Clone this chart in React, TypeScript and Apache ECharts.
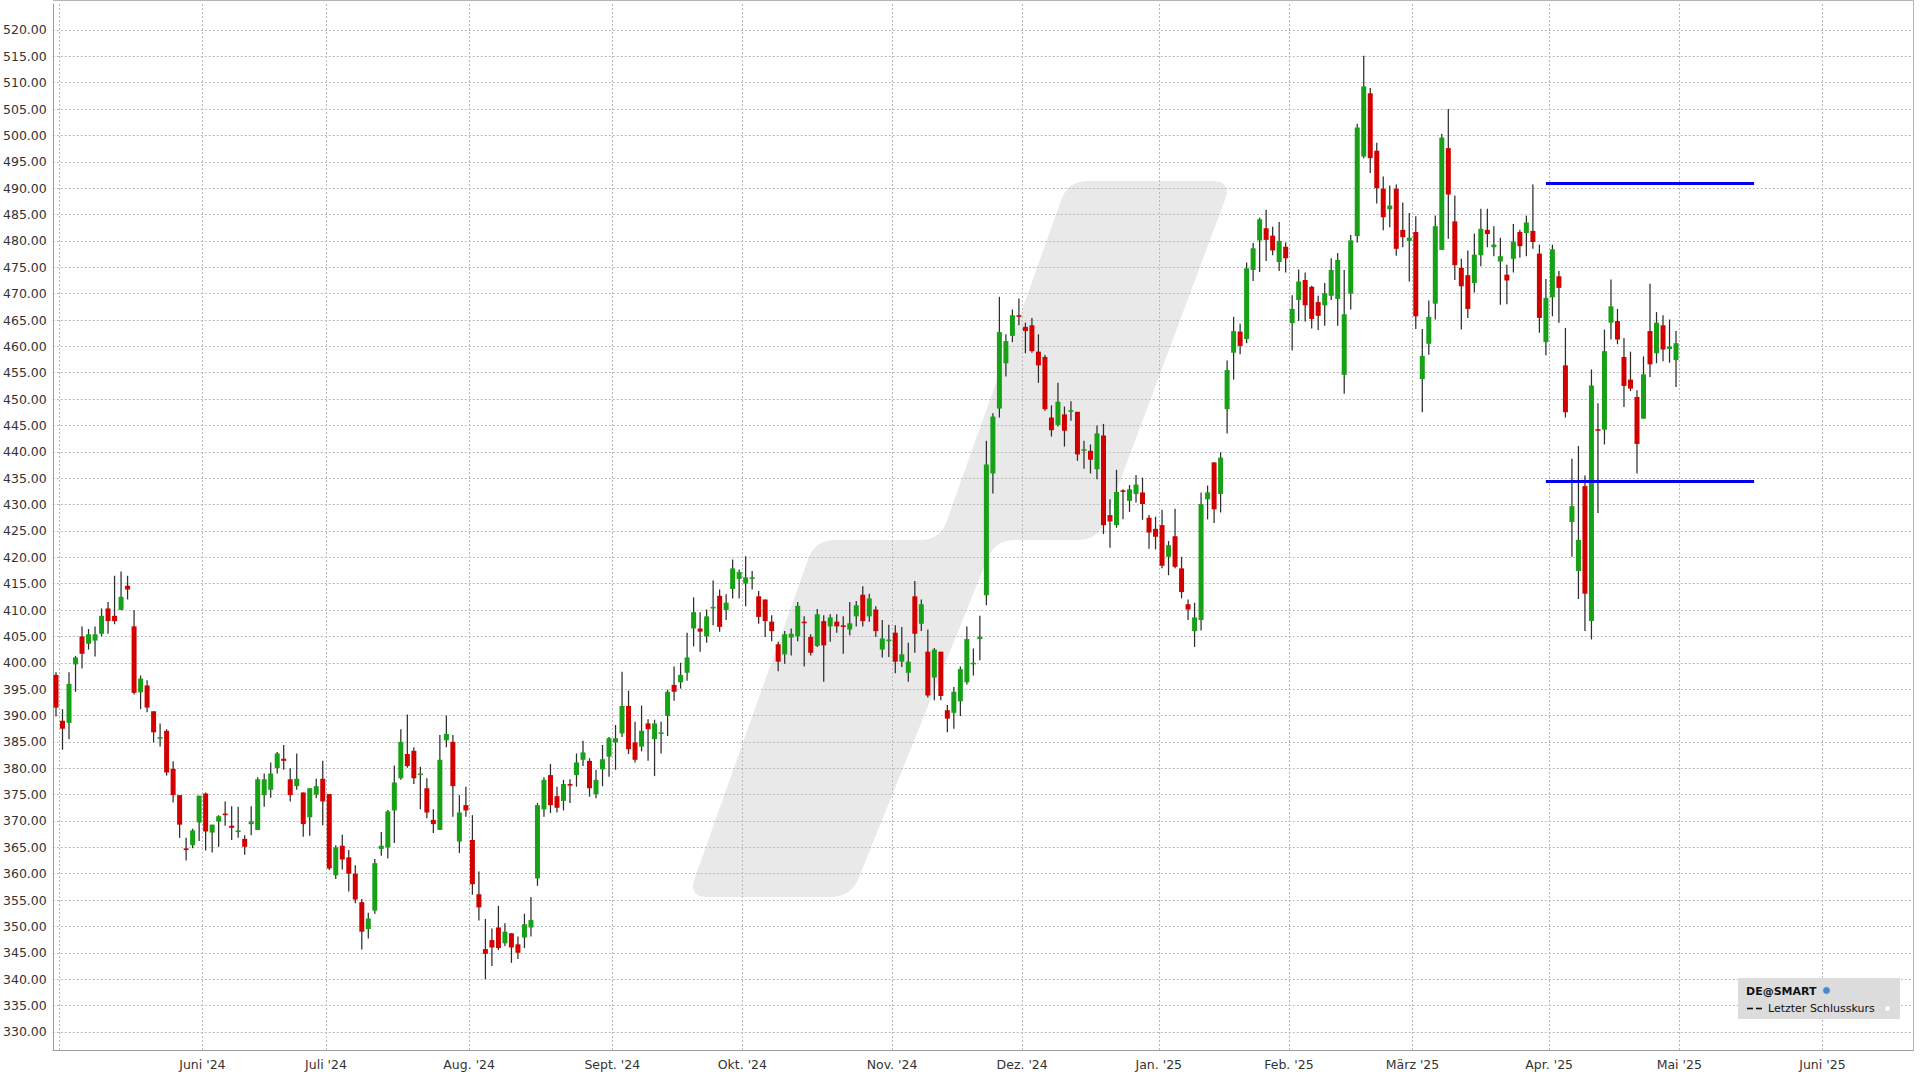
import React, { useEffect, useRef } from "react";
import * as echarts from "echarts";

// ---------- data ----------
const monthLabels = ["Apr '24", "Mai '24", "Juni '24", "Juli '24", "Aug. '24", "Sept. '24", "Okt. '24", "Nov. '24", "Dez. '24", "Jan. '25", "Feb. '25", "März '25", "Apr. '25", "Mai '25", "Juni '25"];
const tradingDaysPerMonth = [1, 22, 19, 22, 22, 20, 23, 20, 21, 20, 19, 21, 20, 22, 14];
const firstLabelledMonth = 2; // "Juni '24"
const firstGridMonth = 1; // "Mai '24"

const opens = [
  397.7, 389.0, 388.6, 399.7, 405.0, 403.6, 404.2, 405.5, 410.3, 408.9,
  410.0, 414.6, 406.9, 394.4, 395.7, 390.8, 385.6, 387.1, 379.9, 374.9,
  364.8, 365.4, 369.7, 375.2, 367.8, 369.9, 371.4, 369.1, 367.9, 366.6,
  369.4, 368.3, 374.9, 375.9, 380.0, 381.8, 377.9, 376.6, 375.4, 370.7,
  375.0, 378.0, 375.1, 359.7, 365.3, 363.1, 360.0, 354.6, 349.5, 353.0,
  364.7, 365.0, 372.0, 378.1, 382.7, 383.3, 378.7, 376.2, 370.2, 368.3,
  385.3, 385.0, 366.1, 373.0, 366.4, 356.1, 345.7, 347.4, 349.8, 346.8,
  348.7, 346.6, 347.9, 349.8, 359.1, 372.2, 378.7, 374.7, 373.8, 377.0,
  378.7, 381.6, 381.4, 375.1, 379.8, 382.2, 384.9, 386.6, 391.8, 384.9,
  384.1, 388.5, 385.5, 386.6, 389.9, 395.8, 396.3, 398.1, 406.5, 406.5,
  405.0, 410.4, 412.7, 410.0, 414.0, 415.9, 415.0, 415.9, 412.6, 412.0,
  407.8, 403.5, 401.6, 404.8, 405.0, 407.8, 404.9, 403.2, 407.9, 406.9,
  407.8, 407.1, 406.3, 408.8, 412.9, 408.8, 410.1, 402.5, 404.1, 405.7,
  400.2, 398.1, 412.6, 407.4, 402.1, 397.2, 402.1, 391.0, 390.5, 392.7,
  396.3, 399.7, 404.5, 412.8, 435.9, 448.2, 456.8, 462.0, 465.9, 463.7,
  464.0, 459.0, 458.0, 446.5, 445.1, 447.1, 447.7, 447.6, 440.2, 440.2,
  436.7, 443.1, 428.0, 426.1, 432.7, 430.7, 432.0, 432.3, 427.5, 425.4,
  426.1, 420.1, 424.0, 417.9, 411.1, 406.0, 408.1, 431.0, 438.0, 432.0,
  448.1, 458.8, 462.8, 461.4, 474.5, 480.1, 482.4, 481.0, 476.0, 478.9,
  464.4, 468.8, 472.6, 471.3, 468.4, 467.8, 469.6, 469.0, 454.6, 470.0,
  480.9, 496.0, 508.0, 497.1, 489.9, 486.0, 489.9, 482.1, 480.0, 481.7,
  453.8, 460.5, 468.1, 478.3, 497.6, 483.7, 474.9, 473.5, 472.0, 477.3,
  482.1, 478.8, 476.1, 473.6, 476.6, 481.7, 481.5, 481.9, 477.6, 460.8,
  469.3, 473.3, 456.4, 426.7, 417.4, 433.5, 407.9, 444.3, 444.2, 464.5,
  464.8, 458.0, 453.7, 450.4, 446.3, 462.9, 458.7, 464.0, 459.5, 457.4,
];
const closes = [
  391.5, 387.5, 396.0, 401.0, 401.7, 405.4, 405.4, 408.9, 407.9, 407.9,
  412.5, 413.9, 394.3, 397.0, 391.5, 386.8, 385.9, 379.2, 374.9, 369.3,
  364.5, 368.2, 374.8, 368.0, 369.3, 370.9, 371.1, 368.7, 368.2, 365.1,
  369.9, 377.9, 377.9, 379.0, 382.8, 381.4, 374.9, 378.0, 369.4, 376.2,
  376.6, 373.7, 361.0, 365.0, 362.7, 360.0, 355.1, 349.0, 351.5, 362.0,
  365.3, 371.8, 377.3, 385.0, 380.4, 378.1, 379.0, 371.6, 369.4, 381.6,
  386.5, 376.6, 371.6, 372.0, 358.0, 353.6, 344.8, 346.0, 345.9, 349.0,
  346.0, 345.0, 350.4, 351.2, 373.0, 377.8, 373.0, 372.5, 377.0, 376.7,
  381.1, 383.0, 376.2, 377.8, 381.7, 385.7, 385.7, 391.8, 383.6, 381.6,
  387.1, 387.4, 388.5, 386.8, 394.5, 394.5, 397.7, 401.0, 409.6, 405.9,
  408.8, 410.6, 406.8, 411.4, 417.9, 417.2, 416.2, 416.2, 408.7, 407.9,
  406.0, 400.2, 405.4, 405.5, 410.8, 407.6, 401.9, 409.2, 403.3, 408.6,
  406.9, 406.8, 407.5, 410.9, 407.9, 412.2, 406.0, 404.6, 404.4, 400.2,
  401.6, 400.2, 405.5, 411.1, 393.8, 402.5, 393.7, 389.4, 394.5, 398.8,
  404.5, 400.0, 404.9, 437.6, 446.7, 462.7, 461.0, 465.9, 465.6, 462.9,
  459.1, 456.4, 448.1, 444.1, 449.5, 444.0, 447.9, 439.5, 440.5, 438.5,
  443.5, 426.1, 426.8, 432.4, 432.4, 432.9, 433.8, 430.1, 424.7, 423.9,
  418.4, 422.3, 418.2, 413.4, 410.1, 408.6, 430.1, 432.3, 429.1, 438.9,
  455.5, 462.9, 460.1, 474.8, 478.6, 484.1, 480.2, 478.2, 480.0, 476.7,
  467.1, 472.3, 467.8, 465.2, 465.8, 470.1, 474.5, 476.4, 466.1, 480.1,
  501.5, 509.3, 495.7, 490.0, 484.5, 486.7, 478.5, 480.7, 480.6, 465.7,
  458.2, 465.6, 482.8, 499.6, 488.8, 475.4, 471.4, 467.1, 477.4, 482.3,
  481.3, 479.3, 477.1, 472.5, 479.9, 479.0, 483.5, 479.8, 465.4, 469.2,
  478.4, 471.1, 447.5, 429.7, 423.3, 413.1, 452.6, 444.1, 459.1, 467.6,
  461.3, 452.5, 452.0, 441.5, 454.7, 456.6, 464.5, 459.4, 460.0, 460.6,
];
const lows = [
  389.8, 383.5, 385.5, 394.5, 398.9, 402.5, 401.2, 405.0, 405.5, 407.3,
  410.0, 412.0, 394.0, 391.2, 390.6, 384.9, 384.1, 378.6, 373.5, 366.8,
  362.5, 364.8, 366.2, 364.4, 364.0, 365.1, 369.1, 366.4, 366.8, 363.6,
  367.3, 368.3, 372.7, 374.4, 379.0, 379.7, 373.7, 375.9, 367.0, 367.2,
  374.3, 369.2, 360.7, 359.0, 360.8, 356.6, 354.4, 345.6, 347.7, 352.4,
  363.4, 362.9, 365.8, 377.8, 380.1, 377.0, 372.2, 370.5, 367.7, 368.3,
  384.0, 370.8, 363.9, 370.8, 356.0, 351.1, 340.0, 342.5, 345.5, 346.3,
  343.1, 343.8, 345.9, 348.1, 357.7, 370.8, 371.5, 371.6, 372.0, 373.4,
  376.5, 380.4, 374.6, 374.3, 376.6, 378.4, 379.7, 385.9, 382.7, 381.1,
  383.2, 381.4, 378.5, 382.8, 386.1, 392.8, 395.1, 396.6, 403.1, 402.1,
  403.8, 407.1, 405.9, 408.1, 412.2, 412.2, 410.7, 413.9, 407.4, 404.9,
  404.1, 398.4, 399.8, 401.4, 404.1, 399.3, 401.4, 403.0, 396.4, 404.0,
  405.7, 401.7, 405.2, 406.9, 406.9, 407.8, 404.9, 401.0, 401.1, 398.0,
  399.2, 396.4, 401.9, 406.0, 393.4, 392.9, 392.9, 386.8, 387.5, 389.9,
  395.9, 397.6, 400.5, 410.9, 432.1, 446.5, 454.3, 460.8, 464.0, 458.7,
  458.8, 453.1, 447.8, 442.9, 444.8, 441.0, 445.9, 438.3, 436.8, 435.9,
  434.8, 424.4, 421.8, 425.6, 427.2, 428.6, 430.4, 427.1, 421.6, 421.5,
  417.9, 416.6, 417.9, 412.2, 408.1, 403.0, 406.1, 427.2, 426.5, 428.5,
  443.5, 453.7, 458.5, 460.6, 472.4, 474.1, 476.2, 477.3, 474.3, 474.0,
  459.2, 464.8, 464.7, 463.4, 463.1, 463.9, 468.8, 463.9, 451.0, 467.0,
  479.7, 495.7, 492.9, 487.1, 482.0, 482.6, 477.2, 478.8, 472.3, 463.3,
  447.5, 458.4, 465.1, 478.3, 480.4, 472.6, 463.2, 465.4, 470.2, 475.2,
  478.8, 477.1, 467.9, 468.0, 474.0, 476.8, 477.1, 478.5, 462.6, 458.3,
  465.7, 464.5, 446.5, 420.1, 412.1, 406.0, 404.4, 428.4, 441.4, 461.3,
  460.4, 448.5, 451.5, 435.9, 446.3, 454.2, 456.8, 457.2, 456.9, 452.3,
];
const highs = [
  398.2, 391.2, 398.2, 401.3, 406.9, 406.4, 406.9, 410.3, 411.5, 416.5,
  417.3, 416.5, 410.0, 397.6, 396.7, 390.8, 388.5, 387.4, 381.3, 374.9,
  366.8, 368.5, 374.8, 375.4, 369.3, 371.1, 373.7, 372.8, 372.7, 367.3,
  372.8, 378.3, 379.0, 381.1, 383.1, 384.4, 380.0, 382.8, 375.4, 376.2,
  378.0, 381.4, 375.1, 365.4, 367.4, 364.5, 361.6, 355.2, 352.6, 362.8,
  367.9, 372.1, 380.5, 387.4, 390.2, 384.0, 380.3, 378.1, 372.2, 386.3,
  390.0, 386.3, 374.9, 376.5, 371.1, 360.4, 351.4, 349.6, 353.9, 350.6,
  348.7, 348.1, 352.4, 355.6, 373.4, 378.3, 380.8, 376.5, 377.8, 377.9,
  382.8, 385.2, 381.9, 379.7, 384.4, 385.9, 388.2, 398.3, 394.7, 388.8,
  391.9, 389.3, 389.2, 388.8, 394.9, 399.3, 400.0, 405.7, 412.4, 409.6,
  410.1, 415.6, 413.9, 413.0, 419.6, 417.7, 420.2, 417.4, 413.6, 412.0,
  409.0, 404.0, 406.0, 406.5, 411.5, 408.8, 405.4, 410.2, 409.0, 409.2,
  409.2, 408.8, 411.5, 411.7, 414.5, 413.1, 410.7, 408.1, 407.2, 407.1,
  406.8, 403.8, 415.5, 412.0, 406.3, 402.8, 402.1, 392.0, 395.4, 399.3,
  406.9, 402.7, 408.9, 442.1, 447.3, 469.4, 462.3, 467.0, 469.1, 464.5,
  465.4, 462.3, 458.4, 448.8, 453.1, 448.6, 449.6, 447.6, 442.1, 441.4,
  445.0, 445.3, 431.0, 436.6, 432.9, 433.7, 435.6, 435.1, 428.0, 427.7,
  429.0, 423.1, 429.2, 420.1, 412.0, 411.4, 432.3, 433.6, 438.0, 439.9,
  457.3, 465.6, 464.3, 475.9, 479.6, 484.4, 485.9, 482.7, 483.6, 479.7,
  469.7, 474.6, 474.0, 471.5, 469.6, 472.0, 476.7, 477.7, 474.5, 481.1,
  502.2, 515.1, 509.0, 498.6, 492.2, 490.5, 490.7, 487.3, 485.3, 484.7,
  463.3, 468.7, 484.8, 500.3, 505.0, 488.6, 476.6, 478.2, 481.4, 486.1,
  486.1, 482.8, 480.6, 475.5, 483.2, 482.1, 484.8, 490.7, 479.3, 472.8,
  479.3, 474.3, 463.5, 438.7, 441.1, 435.5, 455.6, 449.2, 463.2, 472.7,
  467.1, 461.6, 459.0, 451.7, 458.1, 471.9, 466.5, 465.9, 465.1, 462.9,
];

// user-drawn horizontal levels (value, first and last trading-day index)
const levelValues = [491.0, 434.4];
const levelFromIndex = [229, 229];
const levelToIndex = [261, 261];

// ---------- styling ----------
const GREEN = "#16a116";
const RED = "#d30000";
const WICK = "#2e2e2e";
const GRID_COLOR = "#b9b9b9";
const AXIS_COLOR = "#9c9c9c";
const FONT = "'DejaVu Sans', Verdana, sans-serif";

// watermark outline (layout geometry, pixels)
const watermarkPts: number[][] = [
  [1068, 181], [1232, 181], [1098, 540], [995, 540],
  [851, 897], [688, 897], [815, 540], [940, 540],
];

function roundedPath(pts: number[][], r: number): string {
  const n = pts.length;
  let d = "";
  for (let i = 0; i < n; i++) {
    const p = pts[(i - 1 + n) % n];
    const v = pts[i];
    const q = pts[(i + 1) % n];
    const d1 = Math.hypot(p[0] - v[0], p[1] - v[1]);
    const d2 = Math.hypot(q[0] - v[0], q[1] - v[1]);
    const rr = Math.min(r, d1 / 2, d2 / 2);
    const a = [v[0] + ((p[0] - v[0]) * rr) / d1, v[1] + ((p[1] - v[1]) * rr) / d1];
    const b = [v[0] + ((q[0] - v[0]) * rr) / d2, v[1] + ((q[1] - v[1]) * rr) / d2];
    d += (i === 0 ? "M" : "L") + a[0].toFixed(1) + " " + a[1].toFixed(1) +
      " Q" + v[0] + " " + v[1] + " " + b[0].toFixed(1) + " " + b[1].toFixed(1) + " ";
  }
  return d + "Z";
}

echarts.graphic.registerShape("wmLogo", echarts.graphic.extendPath(roundedPath(watermarkPts, 20), {}) as any);

// ---------- derived ----------
const categories: string[] = [];
const isMonthStart: boolean[] = [];
const monthOfIndex: number[] = [];
monthLabels.forEach((lab, m) => {
  for (let k = 0; k < tradingDaysPerMonth[m]; k++) {
    categories.push(k === 0 ? lab : `${lab} (${k + 1})`);
    isMonthStart.push(k === 0);
    monthOfIndex.push(m);
  }
});

const candleData = opens.map((o, i) => [i, o, closes[i], lows[i], highs[i]]);

const GRID_LEFT = 52.75;
const GRID_RIGHT = 6.5;
const GRID_TOP = 4;
const GRID_BOTTOM = 29.3;

export default function App() {
  const ref = useRef<HTMLDivElement>(null);

  useEffect(() => {
    if (!ref.current) return;
    const chart = echarts.init(ref.current, null, { renderer: "svg" });

    const option: any = {
      animation: false,
      backgroundColor: "#ffffff",
      grid: {
        left: GRID_LEFT,
        right: GRID_RIGHT,
        top: GRID_TOP,
        bottom: GRID_BOTTOM,
        show: false,
      },
      xAxis: {
        type: "category",
        data: categories,
        boundaryGap: true,
        axisLine: { show: true, lineStyle: { color: AXIS_COLOR, width: 1 } },
        axisTick: { show: false },
        axisLabel: {
          interval: (i: number) => isMonthStart[i] && monthOfIndex[i] >= firstLabelledMonth,
          formatter: (v: string) => v.split(" (")[0],
          color: "#333333",
          fontFamily: FONT,
          fontSize: 12.5,
          margin: 7,
          padding: [0, 6.5, 0, 0],
        },
        splitLine: {
          show: true,
          interval: (i: number) => isMonthStart[i] && monthOfIndex[i] >= firstGridMonth,
          lineStyle: { color: GRID_COLOR, width: 1, type: [2, 2] },
        },
      },
      yAxis: {
        type: "value",
        min: 326.43,
        max: 524.93,
        minInterval: 5,
        maxInterval: 5,
        axisLine: { show: true, lineStyle: { color: AXIS_COLOR, width: 1 } },
        axisTick: { show: false },
        axisLabel: {
          formatter: (v: number) => (Math.abs(v / 5 - Math.round(v / 5)) < 1e-6 ? v.toFixed(2) : ""),
          color: "#333333",
          fontFamily: FONT,
          fontSize: 12.5,
          margin: 6,
        },
        splitLine: {
          show: true,
          showMaxLine: false,
          showMinLine: false,
          lineStyle: { color: GRID_COLOR, width: 1, type: [2, 2] },
        },
      },
      graphic: [
        {
          type: "wmLogo",
          x: 0,
          y: 0,
          z: -10,
          silent: true,
          style: { fill: "#e9e9e9" },
        },
        {
          type: "polyline",
          z: 5,
          silent: true,
          shape: { points: [[53, 0.5], [1913.5, 0.5], [1913.5, 1050.7]] },
          style: { stroke: "#b4b4b4", lineWidth: 1, fill: null },
        },
        {
          type: "group",
          z: 100,
          silent: true,
          children: [
            { type: "rect", shape: { x: 1738, y: 978, width: 162, height: 41 }, style: { fill: "#dcdcdc" }, z: 100 },
            {
              type: "text", z: 101,
              style: { text: "DE@SMART", x: 1746, y: 991, fill: "#111111", font: `bold 11px ${FONT}`, verticalAlign: "middle" },
            },
            { type: "circle", z: 101, shape: { cx: 1826.5, cy: 990.5, r: 3.6 }, style: { fill: "#4d86c6", stroke: "#9fc0e6", lineWidth: 0.8 } },
            { type: "line", z: 101, shape: { x1: 1747, y1: 1008.5, x2: 1753, y2: 1008.5 }, style: { stroke: "#111111", lineWidth: 1.6 } },
            { type: "line", z: 101, shape: { x1: 1756, y1: 1008.5, x2: 1762, y2: 1008.5 }, style: { stroke: "#111111", lineWidth: 1.6 } },
            {
              type: "text", z: 101,
              style: { text: "Letzter Schlusskurs", x: 1768, y: 1008.5, fill: "#111111", font: `11px ${FONT}`, verticalAlign: "middle" },
            },
            { type: "rect", z: 101, shape: { x: 1885, y: 1006, width: 5, height: 5 }, style: { fill: "#ffffff", stroke: "#d0d0d0", lineWidth: 0.6 } },
          ],
        },
      ],
      series: [
        {
          type: "custom",
          name: "DE@SMART",
          data: candleData,
          encode: { x: 0, y: [1, 2, 3, 4] },
          z: 3,
          renderItem: (params: any, api: any) => {
            const x = api.value(0);
            const o = api.value(1);
            const c = api.value(2);
            const l = api.value(3);
            const h = api.value(4);
            const pO = api.coord([x, o]);
            const pC = api.coord([x, c]);
            const pL = api.coord([x, l]);
            const pH = api.coord([x, h]);
            const bw = 5;
            const up = c >= o;
            const top = Math.min(pO[1], pC[1]);
            const bh = Math.max(1.6, Math.abs(pO[1] - pC[1]));
            return {
              type: "group",
              children: [
                {
                  type: "line",
                  shape: { x1: pH[0], y1: pH[1], x2: pL[0], y2: pL[1] },
                  style: { stroke: WICK, lineWidth: 1.25 },
                },
                {
                  type: "rect",
                  shape: { x: pO[0] - bw / 2, y: top, width: bw, height: bh },
                  style: { fill: up ? GREEN : RED },
                },
              ],
            };
          },
          markLine: {
            silent: true,
            symbol: ["none", "none"],
            label: { show: false },
            lineStyle: { color: "#0000ee", width: 3, type: "solid" },
            data: levelValues.map((v, k) => [
              { coord: [levelFromIndex[k], v] },
              { coord: [levelToIndex[k], v] },
            ]),
          },
        },
      ],
    };

    chart.setOption(option);
    return () => chart.dispose();
  }, []);

  return (
    <div
      ref={ref}
      style={{ position: "fixed", left: 0, top: 0, width: 1920, height: 1080, background: "#ffffff" }}
    />
  );
}
